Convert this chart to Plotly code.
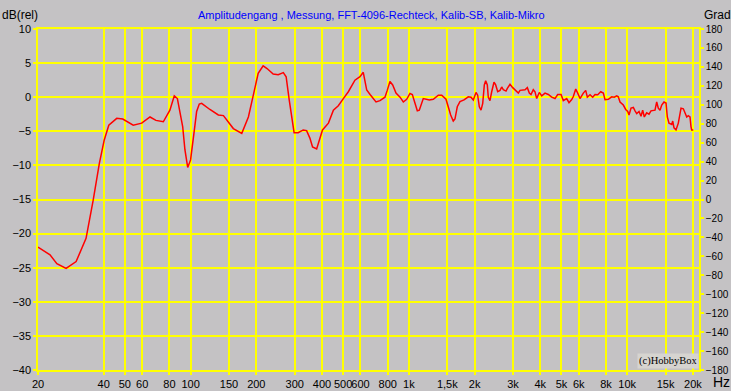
import plotly.graph_objects as go

# Frequency response (Hz, dB rel)
freq_hz = [20, 22.7, 24.4, 26.9, 29.9, 33.2, 35.8, 38.2, 40.2, 42.2, 45.9, 48.9, 54.6, 59.7,
           65.2, 69.4, 75, 80.4, 84.2, 87, 92, 94.2, 97, 100, 103.6, 106.6, 109.6, 112.4,
           122.6, 134, 141.4, 157, 171.6, 184, 193.8, 204, 215, 224, 239, 252, 266, 274,
           283, 298, 311, 328, 340, 352, 362, 378, 402, 428, 451, 475, 501, 528, 566, 597,
           618, 629, 641, 664, 707, 737, 777, 796, 819, 843, 873, 911, 943, 977, 1012, 1037,
           1067, 1093, 1116, 1164, 1240, 1294, 1364, 1414, 1479, 1515, 1554, 1597, 1626,
           1666, 1714, 1789, 1871, 1925, 1973, 2030, 2066, 2102, 2140, 2179, 2216, 2248,
           2287, 2311, 2352, 2395, 2454, 2498, 2552, 2615, 2662, 2707, 2786, 2825, 2906,
           2990, 3064, 3172, 3229, 3404, 3488, 3562, 3626, 3715, 3782, 3850, 3958, 4060,
           4204, 4352, 4511, 4670, 4805, 4977, 5098, 5284, 5414, 5570, 5666, 5811, 5935,
           6081, 6296, 6457, 6568, 6758, 6951, 7123, 7328, 7564, 7775, 7916, 8196, 8493,
           8729, 8954, 9106, 9273, 9600, 9846, 10058, 10196, 10414, 10670, 10864, 11060,
           11332, 11572, 11776, 11980, 12286, 12588, 12856, 13410, 13654, 13886, 14140,
           14396, 14748, 15064, 15270, 15548, 15998, 16168, 16388, 16738, 17148, 17460,
           17646, 18078, 18406, 18740, 19050, 19396, 19602, 19748, 20080]
level_db = [-22.0, -23.1, -24.4, -25.1, -24.1, -20.7, -15.1, -9.7, -6.3, -4.1, -3.1, -3.2, -4.1, -3.8,
            -2.9, -3.4, -3.6, -1.9, 0.2, -0.2, -4.3, -7.7, -10.3, -9.2, -5.3, -2.1, -1.0, -0.9,
            -1.8, -2.6, -2.7, -4.6, -5.3, -2.9, 0.3, 3.5, 4.6, 4.2, 3.4, 3.3, 3.6, 3.0,
            -0.4, -5.2, -5.2, -4.8, -4.9, -6.0, -7.3, -7.6, -4.8, -3.8, -1.9, -1.25, -0.2, 0.8, 2.5, 3.0,
            3.65, 2.5, 1.05, 0.4, -0.7, -0.5, 0.0, 1.0, 2.3, 1.8, 0.6, 0.0, -0.7, -0.3, 0.55, 0.4,
            -1.14, -2.0, -1.9, -0.2, -0.4, -0.3, 0.3, 0.3, -0.3, -1.6, -2.6, -3.5, -3.2,
            -1.4, -0.65, -0.4, 0.06, 0.0, -0.4, 0.7, 0.3, -1.4, -1.9, -0.9, 1.8, 2.4,
            1.8, 0.0, -0.5, 0.8, 2.2, 1.8, 0.8, 1.0, 1.5, 1.1, 0.9, 1.3, 1.9,
            1.4, 1.1, 0.6, 1.0, 1.1, 1.4, 0.6, 0.4, 1.1, 0.8, -0.2, 0.7, 0.2,
            0.6, 0.4, 0.0, -0.2, 0.4, 0.4, -0.5, -0.2, -0.8, -0.35, 0.1, 1.2, 0.6,
            -0.2, 0.6, 1.0, 0.0, 0.35, 0.0, 0.4, 0.35, 0.8, 0.6, -0.35, -0.3, 0.06,
            0.0, 0.2, 0.06, -0.7, -1.15, -1.8, -2.1, -2.6, -1.6, -1.5, -2.0, -2.4,
            -2.1, -2.8, -1.9, -2.9, -2.3, -2.5, -2.0, -1.9, -0.7, -1.6, -1.9,
            -1.15, -0.7, -0.85, -2.9, -3.8, -4.0, -3.5, -4.5, -4.8, -3.8, -2.4,
            -1.6, -1.7, -2.4, -2.9, -2.7, -2.9, -4.3, -4.8, -4.8]

x_tick_vals = [20, 40, 50, 60, 80, 100, 150, 200, 300, 400, 500, 600, 800, 1000, 1500,
               2000, 3000, 4000, 5000, 6000, 8000, 10000, 15000, 20000]
x_tick_text = ["20", "40", "50", "60", "80", "100", "150", "200", "300", "400", "500", "600",
               "800", "1k", "1,5k", "2k", "3k", "4k", "5k", "6k", "8k", "10k", "15k", "20k"]
y_left_ticks = [10, 5, 0, -5, -10, -15, -20, -25, -30, -35, -40]
y_right_ticks = list(range(180, -181, -20))

BG = "#C4C2C4"
GRID = "#FFFF00"
FONT = "Liberation Sans"

fig = go.Figure()
fig.add_trace(go.Scatter(x=freq_hz, y=level_db, mode="lines",
                         line=dict(color="#FF0000", width=1.5), showlegend=False,
                         hoverinfo="skip"))
fig.add_trace(go.Scatter(x=[], y=[], yaxis="y2", showlegend=False))

fig.update_layout(
    width=731, height=391,
    margin=dict(l=38, r=32, t=29, b=21, autoexpand=False),
    paper_bgcolor=BG, plot_bgcolor=BG,
    font=dict(family=FONT, size=11, color="black"),
    xaxis=dict(type="log", range=[1.30103, 4.329], tickvals=x_tick_vals, ticktext=x_tick_text,
               tickangle=0, automargin=False,
               showgrid=True, gridcolor=GRID, gridwidth=1.5, zeroline=False,
               showline=True, linecolor=GRID, linewidth=1.5, mirror=True,
               ticks="outside", ticklen=3, tickwidth=1.5, tickcolor=GRID,
               tickfont=dict(size=11)),
    yaxis=dict(range=[-40, 10], tickvals=y_left_ticks, showgrid=True, gridcolor=GRID,
               automargin=False,
               gridwidth=1.5, zeroline=False, showline=True, linecolor=GRID, linewidth=1.5,
               ticks="outside", ticklen=3, tickwidth=1.5, tickcolor=GRID,
               tickfont=dict(size=11)),
    yaxis2=dict(range=[-180, 180], tickvals=y_right_ticks, overlaying="y", side="right",
                automargin=False,
                showgrid=False, zeroline=False, showline=True, linecolor=GRID, linewidth=1.5,
                ticks="outside", ticklen=3, tickwidth=1.5, tickcolor=GRID,
                tickfont=dict(size=10)),
    annotations=[
        dict(text="Amplitudengang , Messung, FFT-4096-Rechteck, Kalib-SB, Kalib-Mikro",
             xref="paper", yref="paper", x=0.496, xshift=6, y=1, yshift=14, showarrow=False,
             font=dict(color="#0000FF", size=11), xanchor="center", yanchor="middle"),
        dict(text="dB(rel)", xref="paper", yref="paper", x=0, xshift=-38, y=1, yshift=14,
             showarrow=False, xanchor="left", yanchor="middle", font=dict(size=12)),
        dict(text="Grad", xref="paper", yref="paper", x=1, xshift=3, y=1, yshift=14,
             showarrow=False, xanchor="left", yanchor="middle", font=dict(size=12)),
        dict(text="Hz", xref="paper", yref="paper", x=1, xshift=12, y=0, yshift=-12,
             showarrow=False, xanchor="left", yanchor="middle", font=dict(size=14)),
        dict(text="(c)HobbyBox", xref="paper", yref="paper", x=1, xshift=0, y=0, yshift=1,
             showarrow=False, xanchor="right", yanchor="bottom",
             font=dict(family="Liberation Serif", size=10.5, color="black"),
             bgcolor="#D6D4D0", borderpad=1),
    ],
)

fig.write_html("out.html", config={"displayModeBar": False},
               post_script="document.body.style.margin='0';document.body.style.padding='0';")
